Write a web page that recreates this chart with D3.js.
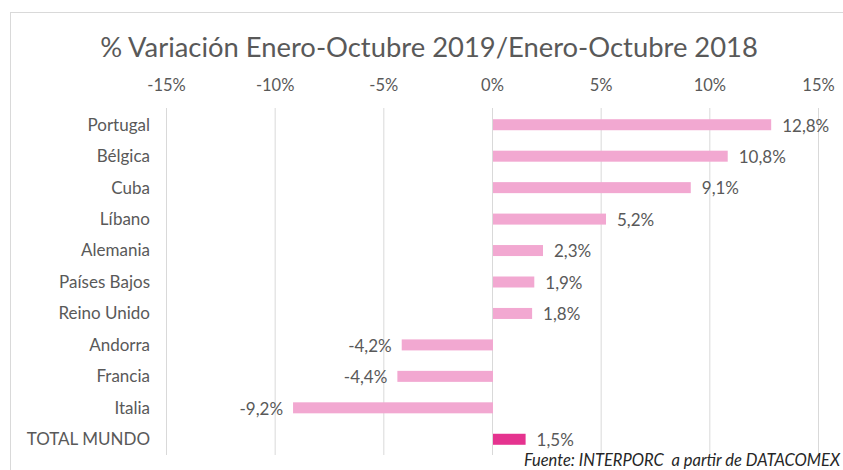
<!DOCTYPE html>
<html>
<head>
<meta charset="utf-8">
<script src="https://cdn.jsdelivr.net/npm/d3@7"></script>
<style>
  html, body { margin: 0; padding: 0; background: #ffffff; }
  svg { display: block; font-family: Lato, "Open Sans", sans-serif; }
</style>
</head>
<body>
<svg id="chart" width="843" height="470"></svg>
<script>
// Export variation by destination, Jan–Oct 2019 vs Jan–Oct 2018 (%)
const categories = ["Portugal", "Bélgica", "Cuba", "Líbano", "Alemania", "Países Bajos",
                    "Reino Unido", "Andorra", "Francia", "Italia", "TOTAL MUNDO"];
const variation = [12.8, 10.8, 9.1, 5.2, 2.3, 1.9, 1.8, -4.2, -4.4, -9.2, 1.5];
const tickValues = [-15, -10, -5, 0, 5, 10, 15];
const titleText = "% Variación Enero-Octubre 2019/Enero-Octubre 2018";
const sourceText = "Fuente: INTERPORC  a partir de DATACOMEX";

const svg = d3.select("#chart");
const textColor = "#595959";
const gridColor = "#d9d9d9";
const barColor = "#f2a8d1";
const totalColor = "#e5338f";
const labelSize = 17;

// chart frame
svg.append("rect")
  .attr("x", 10.5).attr("y", 12.5)
  .attr("width", 850).attr("height", 480)
  .attr("fill", "#fff").attr("stroke", gridColor).attr("stroke-width", 1);

const x = d3.scaleLinear().domain([-15, 15]).range([166, 818]);
const y = d3.scaleBand().domain(categories).range([109, 455])
  .paddingInner(0.65).paddingOuter(0.325);

// title, sized to its line
const title = svg.append("text")
  .attr("x", 429).attr("y", 57)
  .attr("text-anchor", "middle")
  .attr("fill", textColor)
  .attr("font-size", 24)
  .text(titleText);
const tw = title.node().getComputedTextLength();
title.attr("font-size", 24 * 658 / tw);

// vertical gridlines
svg.append("g").selectAll("line")
  .data(tickValues)
  .join("line")
  .attr("x1", d => x(d) + 0.5).attr("x2", d => x(d) + 0.5)
  .attr("y1", 108).attr("y2", 455)
  .attr("stroke", gridColor).attr("stroke-width", 1);

// top axis labels
const fmtTick = d => d + "%";
const axis = d3.axisTop(x).tickValues(tickValues).tickFormat(fmtTick).tickSize(0).tickPadding(0);
const axisG = svg.append("g").attr("transform", "translate(0,91)").call(axis);
axisG.select(".domain").remove();
axisG.selectAll("text")
  .attr("fill", textColor)
  .attr("font-size", 16.5)
  .attr("font-family", "Lato, 'Open Sans', sans-serif")
  .attr("dy", 0);

// category labels
svg.append("g").selectAll("text")
  .data(categories)
  .join("text")
  .attr("x", 150)
  .attr("y", d => y(d) + y.bandwidth() / 2)
  .attr("dy", "0.35em")
  .attr("text-anchor", "end")
  .attr("fill", textColor)
  .attr("font-size", labelSize)
  .text(d => d);

const rows = categories.map((c, i) => ({ cat: c, v: variation[i] }));

// bars
svg.append("g").selectAll("rect")
  .data(rows)
  .join("rect")
  .attr("x", d => x(Math.min(0, d.v)) + 1)
  .attr("y", d => y(d.cat))
  .attr("width", d => Math.abs(x(d.v) - x(0)))
  .attr("height", y.bandwidth())
  .attr("fill", d => d.cat === "TOTAL MUNDO" ? totalColor : barColor);

// value labels
const fmtVal = v => v.toFixed(1).replace(".", ",") + "%";
svg.append("g").selectAll("text")
  .data(rows)
  .join("text")
  .attr("x", d => d.v >= 0 ? x(d.v) + 12 : x(d.v) - 9)
  .attr("y", d => y(d.cat) + y.bandwidth() / 2)
  .attr("dy", "0.4em")
  .attr("text-anchor", d => d.v >= 0 ? "start" : "end")
  .attr("fill", textColor)
  .attr("font-size", labelSize)
  .text(d => fmtVal(d.v));

// source note
svg.append("text")
  .attr("x", 840).attr("y", 466)
  .attr("text-anchor", "end")
  .attr("fill", "#262626")
  .attr("font-style", "italic")
  .attr("font-size", 16.5)
  .style("white-space", "pre")
  .text(sourceText);
</script>
</body>
</html>
